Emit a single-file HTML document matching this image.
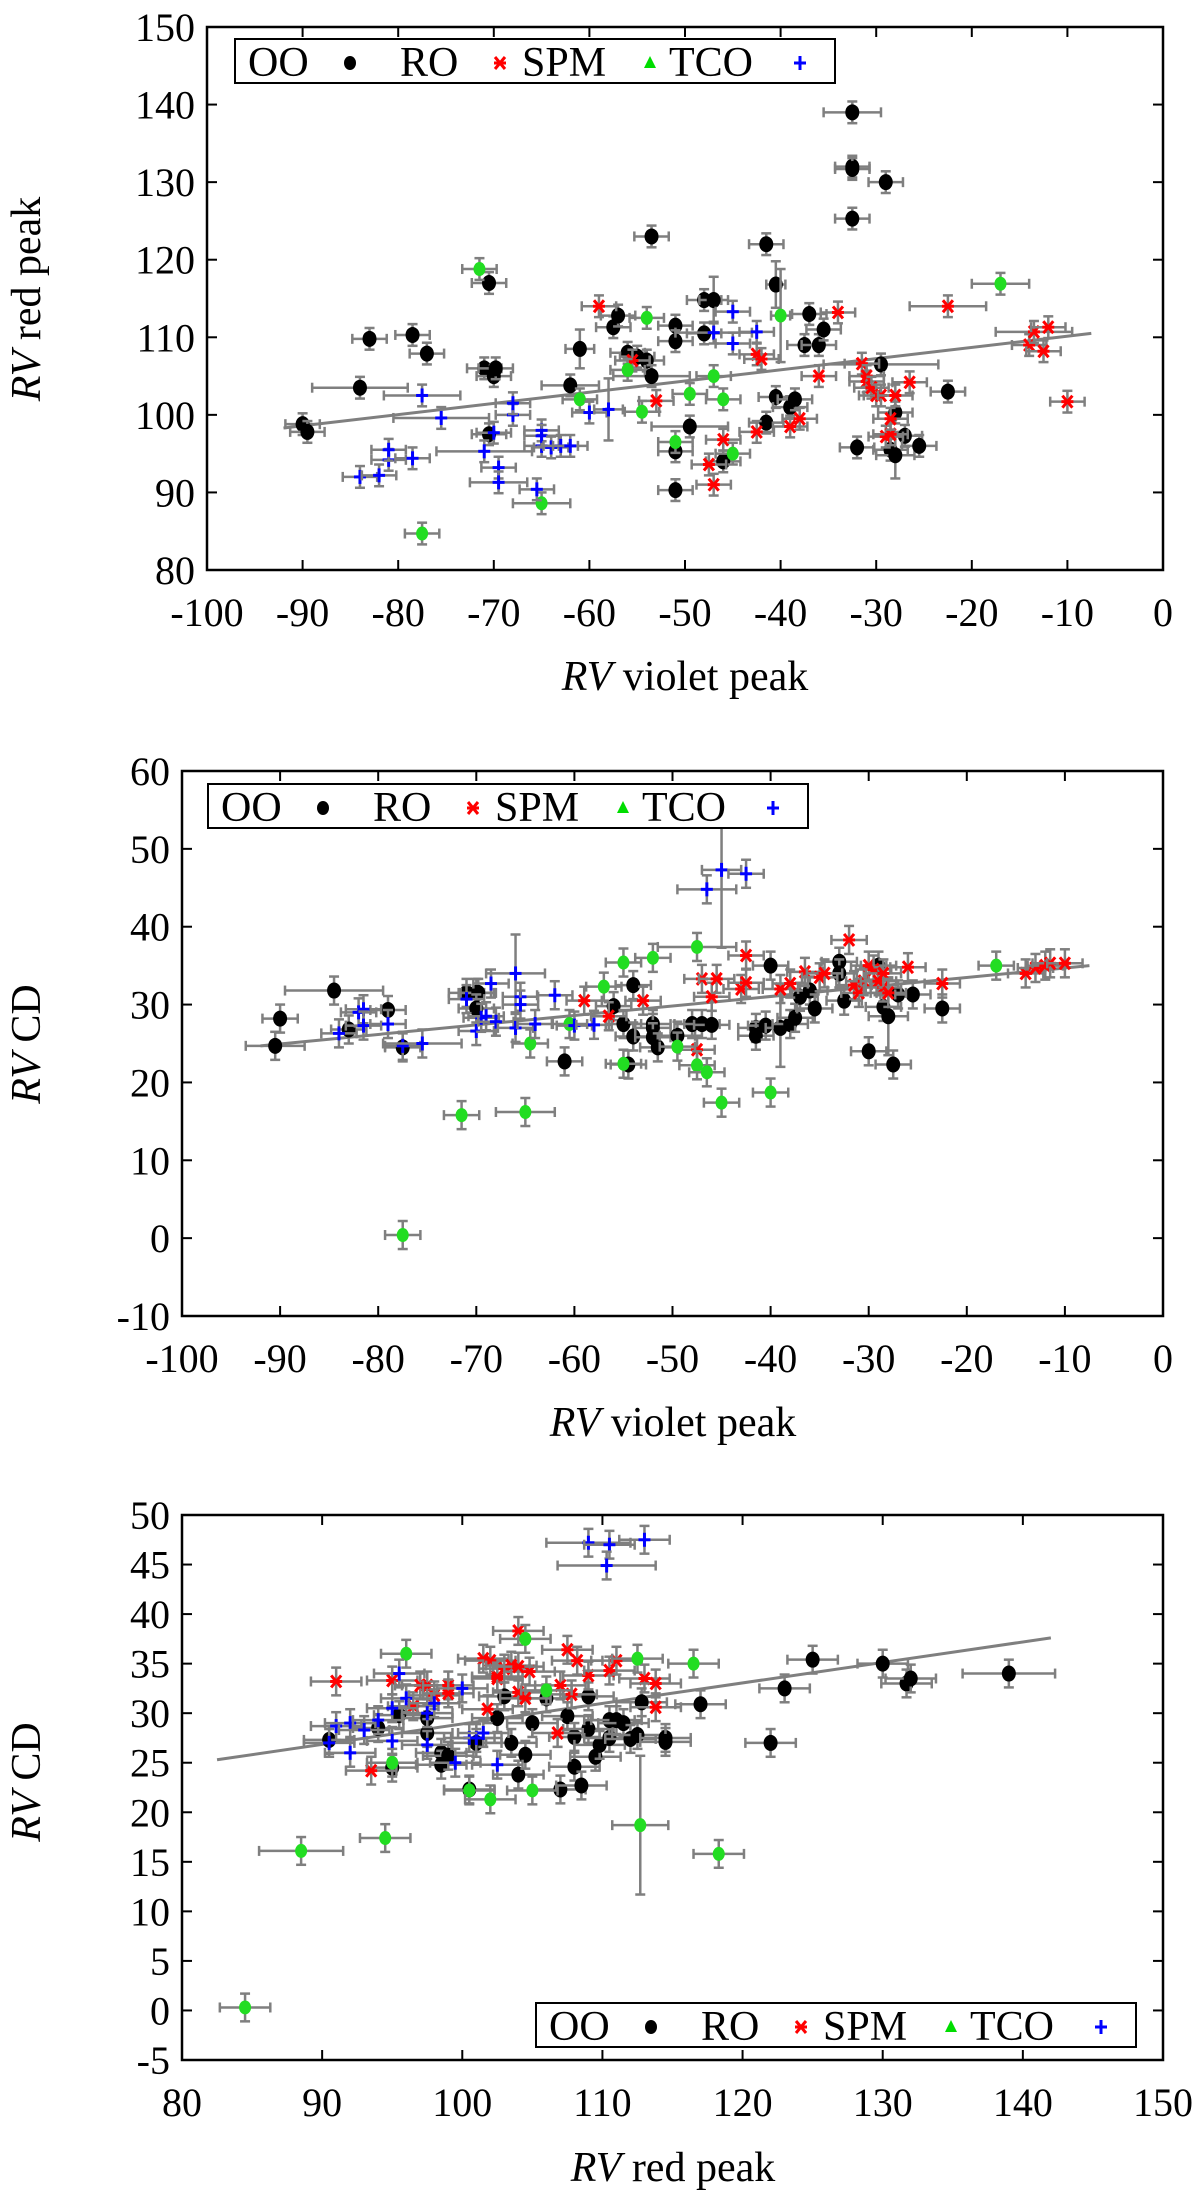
<!DOCTYPE html>
<html><head><meta charset="utf-8"><style>
html,body{margin:0;padding:0;background:#fff}
svg{display:block}
svg text{font-family:"Liberation Serif","DejaVu Serif",serif;fill:#000}
</style></head><body>
<svg id="fig" width="1200" height="2190" viewBox="0 0 1200 2190" xmlns="http://www.w3.org/2000/svg" font-family="Liberation Serif, DejaVu Serif, serif"></svg>
<script>
// ---- Plot 1: RV red peak vs RV violet peak ----
const p1OO=[[-90,98.8],[-89.5,97.8],[-84,103.5,5],[-83,109.8],[-78.5,110.3],[-77,107.9],[-71,106],[-70.5,117],[-70,105],[-69.8,106],[-70.5,97.5],[-62,103.8,3],[-61,108.5,1.5,2.5],[-57.5,111.3],[-57,112.8],[-56,108],[-55,107.5],[-54,107],[-53.5,105,4],[-53.5,123],[-51,111.5],[-51,109.5],[-51,95.3],[-51,90.3],[-49.5,98.5,4],[-48,114.8],[-48,110.5],[-47,114.8,1.5,3],[-46,94],[-41.5,122],[-41.5,99],[-40.5,116.8,1,3],[-40.5,102.3],[-39,101],[-38.5,102],[-37.5,109],[-37,113],[-36,109],[-35.5,111],[-32.5,139,3],[-32.5,132],[-32.5,131.7],[-32.5,125.3],[-32,95.8],[-29,130],[-29.5,106.5,6],[-28.5,95.5],[-28,94.8,2,3],[-28,100.3],[-27,97.3],[-25.5,96],[-22.5,103]];
const p1RO=[[-59,114],[-55.5,107],[-53,101.8],[-47.5,93.6],[-47,91],[-46,96.8],[-42.5,107.8],[-42,107.2],[-42.5,97.8],[-39,98.5],[-38,99.5],[-36,105],[-34,113.2],[-31.5,106.6],[-31,104.3],[-31,105],[-30.5,103.5],[-30,102.5],[-29.5,102.5],[-29,97.2],[-28.5,97.5],[-28.5,99.5],[-28,102.5],[-26.5,104.2],[-22.5,114,4],[-14,109],[-13.5,110.7,4],[-12,111.3],[-12.5,108.2],[-10,101.7]];
const p1SPM=[[-71.5,118.8],[-77.5,84.7],[-65,88.6,3],[-61,102],[-56,105.8],[-54.5,100.4],[-54,112.5],[-51,96.5],[-49.5,102.7],[-47,105],[-46,102],[-45,95],[-40,112.8,1,6],[-17,116.9,3]];
const p1TCO=[[-84,92],[-82,92.2],[-81,94.2],[-81,95.5],[-78.5,94.4],[-77.5,102.5,4],[-75.5,99.6,5],[-71,95.3,5],[-70,97.7],[-69.5,93.2],[-69.5,91.3,3],[-68,100],[-68,101.5],[-65.5,90.4],[-65,96],[-65,98],[-65,97.3],[-64,95.8],[-63,96],[-62,96],[-60,100.3],[-58,100.7,1.5,4],[-47,110.6,4],[-45,113.3],[-45,109.2],[-42.5,110.7]];
const p1Fit=[[-92,98.3],[-7.5,110.5]];
const p1XTicks=[-100,-90,-80,-70,-60,-50,-40,-30,-20,-10,0];
const p1YTicks=[80,90,100,110,120,130,140,150];
// ---- Plot 2: RV CD vs RV violet peak ----
const p2OO=[[-90,28.2],[-90.5,24.7,3],[-84.5,31.8,5],[-83,26.8],[-79,29.3],[-77.5,24.5],[-71,31.5],[-70,31.5],[-69.8,31.5],[-70,29.5],[-61,22.7],[-56,29.8],[-55,27.5],[-54,32.5],[-54,25.9],[-54.5,22.3],[-52,27.5],[-52,27],[-52,25.8],[-51.5,24.5],[-49.5,26],[-48,27.5],[-47,27.5],[-46,27.4],[-41.5,27],[-41.5,26],[-40.5,27.3],[-40,35],[-39,27,1.5,5],[-38,27.5],[-37.5,28.3],[-37,31],[-36,31.8],[-35.5,29.5],[-33,35.5],[-33,34],[-32.5,30.5],[-30,24],[-29,35],[-28.5,29.7],[-28,28.5,2,5],[-27.5,22.3],[-27,31.3],[-25.5,31.3],[-22.5,29.5]];
const p2RO=[[-59,30.5],[-56.5,28.5],[-53,30.5],[-47.5,24.2],[-47,33.3],[-46,31],[-45.5,33.3],[-42.5,36.3],[-43,32],[-42.5,32.8],[-39,32],[-38,32.7],[-36.5,34.2],[-35,33.5],[-34.5,34],[-32,38.3],[-31.5,32.5],[-31,31.5],[-30.5,33],[-30,35],[-29.5,34.5],[-29,33],[-28.5,32.2],[-28.5,34],[-28,31.5],[-26,34.8],[-22.5,32.7],[-14,34],[-13,34.7],[-12,35],[-11.5,35.3],[-10,35.3]];
const p2SPM=[[-71.5,15.8],[-65,16.2,3],[-77.5,0.4],[-64.5,25],[-60.5,27.5],[-57,32.3],[-55,35.4],[-55,22.4],[-52,36],[-49.5,24.6],[-47.5,37.4,4],[-47.5,22.2],[-46.5,21.3],[-45,17.4],[-40,18.7],[-17,35]];
const p2TCO=[[-84,26.3],[-82,29],[-81.5,29.4],[-81.5,27.3],[-79,27.5],[-77.5,24.7],[-75.5,25,4],[-71,30.7],[-70,26.6],[-69.5,28.3],[-69,28.5],[-68.5,32.7],[-68,27.8],[-66,34,3,5],[-66,27],[-65.5,31],[-65.5,30],[-64,27.5],[-62,31.2],[-60,27.3],[-58,27.4],[-46.5,44.8,3],[-45,47.3,2,10],[-42.5,46.8]];
const p2Fit=[[-92,24.7],[-7.5,35]];
const p2XTicks=[-100,-90,-80,-70,-60,-50,-40,-30,-20,-10,0];
const p2YTicks=[-10,0,10,20,30,40,50,60];
// ---- Plot 3: RV CD vs RV red peak ----
const p3OO=[[90.5,27.3],[94,28.5],[95,24.5],[95.5,29.8],[97.5,29.5],[97.5,28],[98.5,26],[98.5,24.8],[99,25.7],[100.5,22.3],[101,27],[102.5,29.5],[103,31.7],[103.5,27],[104,23.8],[104.5,25.8],[105,29],[106,31.5],[107,22.3],[107.5,29.7],[108,24.6],[108,27.6],[108.5,22.7],[109,28.4],[109,31.7],[109.5,25.6],[109.8,26.8],[110.5,27.5],[110.5,29.3],[111,29.3],[111.5,29],[112,27.4],[112.5,27.8],[112.8,31.1],[114.5,27.5],[114.5,27.1],[117,30.9],[122,27],[123,32.5],[125,35.4],[130,35],[131.7,33],[132,33.5],[139,34,3.3]];
const p3RO=[[91,33.2],[93.5,24.2],[95,33.3],[96.5,30.7],[97,32.8],[97.5,32.8],[98,31.8],[99,32.8],[99,32],[101.5,35.5],[101.8,30.4],[102,35.3],[102.5,33.5],[102.5,33.7],[103,34.5],[103.5,34.8],[104,38.3],[104,32.1],[104.5,31.5],[104.8,34.2],[104,34.7],[107,32.8],[106.8,28],[107.5,36.4],[107.8,31.9],[108.2,35.3],[109,33.8],[110.5,34.3],[111,35.3],[113,33.5],[113.8,33],[113.8,30.6]];
const p3SPM=[[84.5,0.3],[88.5,16.1,3],[94.5,17.4],[95,25],[96,36],[100.5,22.2],[102,21.3],[104.5,37.5],[105,22.2],[106,32.3],[112.5,35.5],[112.7,18.7,2,7],[116.5,35],[118.3,15.8]];
const p3TCO=[[90.5,27],[91,28.7],[92,26],[92,29],[93,28.3],[94,29.3],[95,30.5],[95,27.2],[95.5,34],[96,31.5],[97.5,26.8],[97.5,30],[98,31],[99.5,25],[100,32.5],[100.5,27.5],[101,27.5],[101.5,28],[102.5,24.8],[109,47.2,3],[110.5,47],[110.3,44.9,3.5],[113,47.5]];
const p3Fit=[[82.5,25.3],[142,37.6]];
const p3XTicks=[80,90,100,110,120,130,140,150];
const p3YTicks=[-5,0,5,10,15,20,25,30,35,40,45,50];

const NS="http://www.w3.org/2000/svg";
const svg=document.getElementById('fig');
function mk(tag,attrs,parent){const e=document.createElementNS(NS,tag);for(const k in attrs)e.setAttribute(k,attrs[k]);(parent||svg).appendChild(e);return e;}

function plot(cfg){
  const g=mk('g',{});
  
  
  const sx=v=>cfg.L+(v-cfg.xmin)/(cfg.xmax-cfg.xmin)*(cfg.R-cfg.L);
  const sy=v=>cfg.B-(v-cfg.ymin)/(cfg.ymax-cfg.ymin)*(cfg.B-cfg.T);
  cfg.xt.forEach(v=>{
    const x=sx(v);
    mk('line',{x1:x,y1:cfg.B,x2:x,y2:cfg.B-10,stroke:'#000','stroke-width':2},g);
    mk('line',{x1:x,y1:cfg.T,x2:x,y2:cfg.T+10,stroke:'#000','stroke-width':2},g);
    const t=mk('text',{x:x,y:cfg.B+56,'font-size':40,'text-anchor':'middle'},g);
    t.textContent=v;
    
    
  });
  cfg.yt.forEach(v=>{
    const y=sy(v);
    mk('line',{x1:cfg.L,y1:y,x2:cfg.L+10,y2:y,stroke:'#000','stroke-width':2},g);
    mk('line',{x1:cfg.R,y1:y,x2:cfg.R-10,y2:y,stroke:'#000','stroke-width':2},g);
    const t=mk('text',{x:cfg.L-12,y:y+14,'font-size':40,'text-anchor':'end'},g);
    t.textContent=v;
    
    
  });
  const f=mk('line',{x1:sx(cfg.fit[0][0]),y1:sy(cfg.fit[0][1]),x2:sx(cfg.fit[1][0]),y2:sy(cfg.fit[1][1]),stroke:'#7f7f7f','stroke-width':3},g);
  
  
  const series=[[cfg.oo,'oo'],[cfg.ro,'ro'],[cfg.spm,'spm'],[cfg.tco,'tco']];
  series.forEach(([arr,kind])=>{
    arr.forEach(p=>{
      const ex=p[2]!==undefined?p[2]:cfg.dex, ey=p[3]!==undefined?p[3]:cfg.dey;
      const x=sx(p[0]),y=sy(p[1]);
      const x0=sx(p[0]-ex),x1=sx(p[0]+ex),y0=sy(p[1]-ey),y1=sy(p[1]+ey);
      const eg=mk('g',{stroke:'#7f7f7f','stroke-width':2.5},g);
      
      
      mk('line',{x1:x0,y1:y,x2:x1,y2:y},eg);
      mk('line',{x1:x,y1:y0,x2:x,y2:y1},eg);
      mk('line',{x1:x0,y1:y-5,x2:x0,y2:y+5},eg);
      mk('line',{x1:x1,y1:y-5,x2:x1,y2:y+5},eg);
      mk('line',{x1:x-5,y1:y0,x2:x+5,y2:y0},eg);
      mk('line',{x1:x-5,y1:y1,x2:x+5,y2:y1},eg);
      drawMarker(g,kind,x,y);
    });
  });
  const fr=mk('rect',{x:cfg.L,y:cfg.T,width:cfg.R-cfg.L,height:cfg.B-cfg.T,fill:'none',stroke:'#000','stroke-width':2.5},g);
  
  
  const xt=mk('text',{x:cfg.xlx,y:cfg.xly,'font-size':42,'text-anchor':'middle'},g);
  xt.innerHTML='<tspan font-style="italic">RV</tspan> '+cfg.xlabel;
  
  
  const yt=mk('text',{x:0,y:0,'font-size':42,'text-anchor':'middle',transform:`translate(${cfg.ylx},${cfg.yly}) rotate(-90)`},g);
  yt.innerHTML='<tspan font-style="italic">RV</tspan> '+cfg.ylabel;
  
  
  const lg=mk('g',{},g);
  
  
  const lx=cfg.leg[0],ly=cfg.leg[1];
  mk('rect',{x:lx,y:ly,width:600,height:44,fill:'#fff',stroke:'#000','stroke-width':2},lg);
  const ents=[['OO','oo',13,115],['RO','ro',165,265],['SPM','spm',287,415],['TCO','tco',434,565]];
  ents.forEach(([lab,kind,tx,mx])=>{
    const t=mk('text',{x:lx+tx,y:ly+37,'font-size':42},lg);
    t.textContent=lab;
    
    
    drawMarker(lg,kind,lx+mx,ly+24,true);
  });
}
function drawMarker(g,kind,x,y,small){
  let m;
  if(kind==='oo'){m=mk('ellipse',{cx:x,cy:y,rx:small?6:7,ry:small?7:8,fill:'#000'},g);}
  else if(kind==='ro'){m=mk('g',{stroke:'#ff0000','stroke-width':3},g);
    mk('line',{x1:x-5,y1:y-6,x2:x+5,y2:y+6},m);mk('line',{x1:x+5,y1:y-6,x2:x-5,y2:y+6},m);mk('line',{x1:x-6,y1:y,x2:x+6,y2:y},m);}
  else if(kind==='spm'){m=small?mk('polygon',{points:`${x},${y-7} ${x-6},${y+5} ${x+6},${y+5}`,fill:'#00dd00'},g):mk('ellipse',{cx:x,cy:y,rx:6,ry:7,fill:'#22dd22'},g);}
  else {m=mk('g',{stroke:'#0000ff','stroke-width':3},g);
    mk('line',{x1:x-6,y1:y,x2:x+6,y2:y},m);mk('line',{x1:x,y1:y-7,x2:x,y2:y+7},m);}
  
  
}
plot({name:'plot-red-vs-violet',L:207,R:1163,T:27,B:570,xmin:-100,xmax:0,ymin:80,ymax:150,xt:p1XTicks,yt:p1YTicks,
  oo:p1OO,ro:p1RO,spm:p1SPM,tco:p1TCO,fit:p1Fit,dex:1.8,dey:1.4,xlabel:'violet peak',ylabel:'red peak',
  xlx:685,xly:690,ylx:40,yly:299,leg:[235,39]});
plot({name:'plot-cd-vs-violet',L:182,R:1163,T:771,B:1316,xmin:-100,xmax:0,ymin:-10,ymax:60,xt:p2XTicks,yt:p2YTicks,
  oo:p2OO,ro:p2RO,spm:p2SPM,tco:p2TCO,fit:p2Fit,dex:1.8,dey:1.8,xlabel:'violet peak',ylabel:'CD',
  xlx:673,xly:1436,ylx:40,yly:1044,leg:[208,784]});
plot({name:'plot-cd-vs-red',L:182,R:1163,T:1515,B:2060,xmin:80,xmax:150,ymin:-5,ymax:50,xt:p3XTicks,yt:p3YTicks,
  oo:p3OO,ro:p3RO,spm:p3SPM,tco:p3TCO,fit:p3Fit,dex:1.8,dey:1.4,xlabel:'red peak',ylabel:'CD',
  xlx:673,xly:2181,ylx:40,yly:1782,leg:[536,2003]});
</script>
</body></html>
